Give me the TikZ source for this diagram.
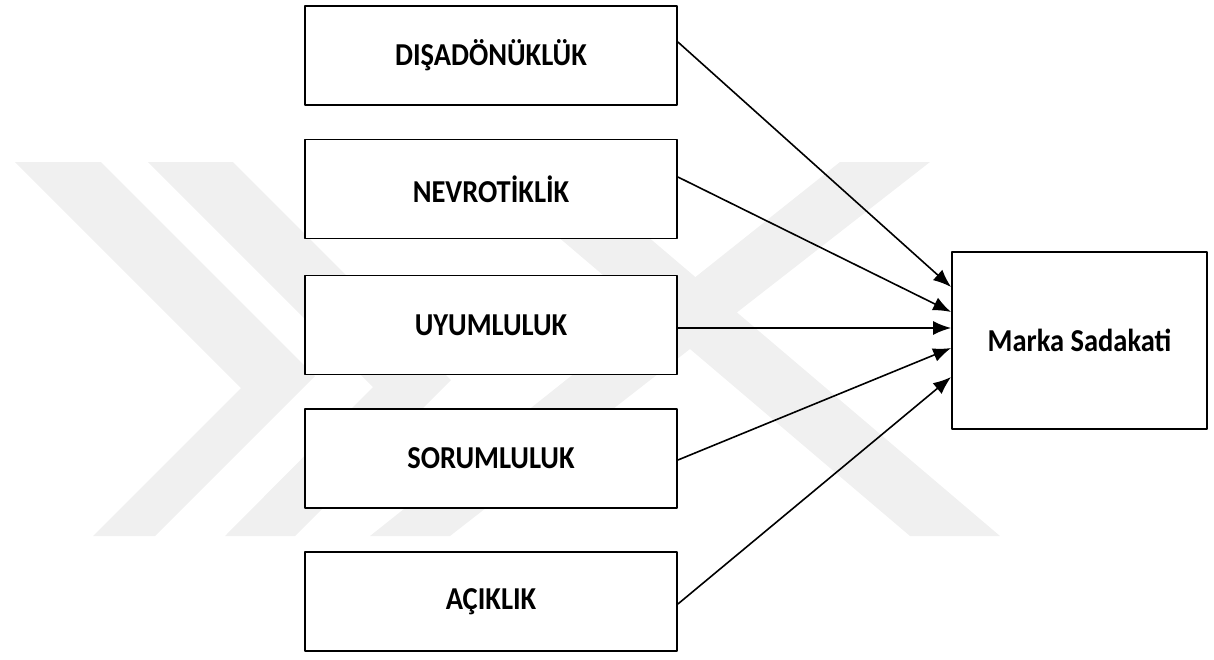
\documentclass[tikz,border=0pt]{standalone}
\usepackage{fontspec}
\setmainfont{Carlito}
\usetikzlibrary{arrows.meta}
\newcommand{\uzun}[1]{\scalebox{1}[1.12]{#1}}
\begin{document}
\begin{tikzpicture}[x=1pt, y=-1pt, line join=round, >={Latex[length=18pt,width=14pt]},
		kutu/.style={draw, line width=1.8pt, fill=white, minimum width=372pt, minimum height=99pt, inner sep=0pt, font=\fontsize{28.5}{33}\selectfont\bfseries},
		ok/.style={->, line width=1.6pt}]
	\useasboundingbox (0,0) rectangle (1214,659);
	% silik filigran
	\fill[black!6] (15,162)--(101,162)--(315,376)--(155,536)--(93,536)--(241,388)--cycle;
	\fill[black!6] (148,162)--(233,162)--(451,380)--(295,536)--(225,536)--(373,387)--cycle;
	\fill[black!6] (840,162)--(930,162)--(450,536)--(370,536)--cycle;
	\fill[black!6] (470,162)--(560,162)--(1000,536)--(910,536)--cycle;
	% kutular
	\node[kutu] (D) at (491,55.5) {\uzun{DIŞADÖNÜKLÜK}};
	\node[kutu] (N) at (491,189) {\uzun{NEVROTİKLİK}};
	\node[kutu] (U) at (491,325) {\uzun{UYUMLULUK}};
	\node[kutu] (S) at (491,458.5) {\uzun{SORUMLULUK}};
	\node[kutu] (A) at (491,601.5) {\uzun{AÇIKLIK}};
	\node[kutu, minimum width=255pt, minimum height=177pt] (M) at (1079.5,340.5) {\uzun{Marka Sadakati}};
	% oklar
	\draw[ok] ([yshift=13.5pt]D.east) -- ([yshift=53.5pt]M.west);
	\draw[ok] ([yshift=12pt]N.east) -- ([yshift=28.5pt]M.west);
	\draw[ok] ([yshift=-3pt]U.east) -- ([yshift=12.5pt]M.west);
	\draw[ok] ([yshift=-1.5pt]S.east) -- ([yshift=-7.5pt]M.west);
	\draw[ok] ([yshift=-2.5pt]A.east) -- ([yshift=-36.5pt]M.west);
\end{tikzpicture}
\end{document}
